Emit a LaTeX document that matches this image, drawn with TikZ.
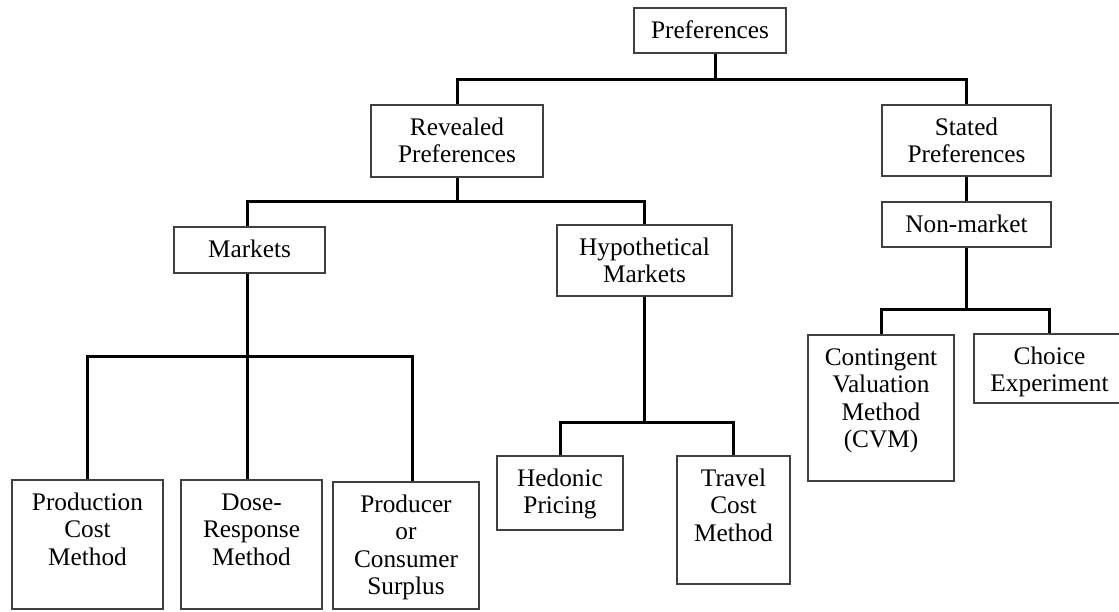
\documentclass[tikz,border=0pt]{standalone}
\usepackage{fontspec}
\setmainfont{Liberation Serif}
\tikzset{
  box/.style={draw=black!75, line width=1.3pt, inner sep=0pt, fill=white},
  txt/.style={align=center, inner sep=0pt, font=\fontsize{25.3}{27.5}\selectfont, text=black},
  conn/.style={line width=3pt, black, line join=miter}
}
\newcommand\mybox[6]{%
  \node[box, minimum width={#4-#2}, minimum height={#5-#3}] (#1) at ({(#2+#4)/2},{(#3+#5)/2}) {};
  \node[txt, anchor=north] (#1t) at ({(#2+#4)/2},{#3+11}) {\strut #6};}
\begin{document}
\begin{tikzpicture}[x=1pt,y=-1pt]
\useasboundingbox[fill=white] (0,0) rectangle (1119,611);
\coordinate (y1) at (0,79);
\coordinate (y2) at (0,201);
\coordinate (y3) at (0,356);
\coordinate (y4) at (0,422);
\coordinate (y5) at (0,309);
\mybox{pref}{634}{8}{786}{53}{Preferences}
\mybox{rev}{371}{105}{543}{177}{Revealed\\Preferences}
\mybox{stated}{882}{105}{1051}{176}{Stated\\Preferences}
\mybox{mkt}{174}{227}{325}{273}{Markets}
\mybox{hyp}{557}{225}{732}{296}{Hypothetical\\Markets}
\mybox{nonmkt}{882}{202}{1051}{247}{Non-market}
\mybox{pcm}{12}{480}{163}{609}{Production\\Cost\\Method}
\mybox{drm}{181}{480}{322}{609}{Dose-\\Response\\Method}
\mybox{pcs}{333}{482}{479}{609}{Producer\\or\\Consumer\\Surplus}
\mybox{hed}{497}{456}{623}{530}{Hedonic\\Pricing}
\mybox{tcm}{677}{456}{790}{584}{Travel\\Cost\\Method}
\mybox{cvm}{808}{335}{954}{481}{Contingent\\Valuation\\Method\\(CVM)}
\mybox{ce}{974}{334}{1125}{403}{Choice\\Experiment}
\draw[conn] ([xshift=5pt]pref.south) -- ([xshift=5pt]pref.south |- y1);
\draw[conn] (rev.north) |- (stated.north |- y1) -- (stated.north);
\draw[conn] (rev.south) -- (rev.south |- y2);
\draw[conn] ([xshift=-2pt]mkt.north) |- (hyp.north |- y2) -- (hyp.north);
\draw[conn] ([xshift=-2pt]mkt.south) -- ([xshift=-2pt]mkt.south |- drm.north);
\draw[conn] (pcm.north) |- ([xshift=6pt]pcs.north |- y3) -- ([xshift=6pt]pcs.north);
\draw[conn] (hyp.south) -- (hyp.south |- y4);
\draw[conn] (hed.north) |- (tcm.north |- y4) -- (tcm.north);
\draw[conn] (stated.south) -- (nonmkt.north);
\draw[conn] (nonmkt.south) -- (nonmkt.south |- y5);
\draw[conn] (cvm.north) |- (ce.north |- y5) -- (ce.north);
\end{tikzpicture}
\end{document}
